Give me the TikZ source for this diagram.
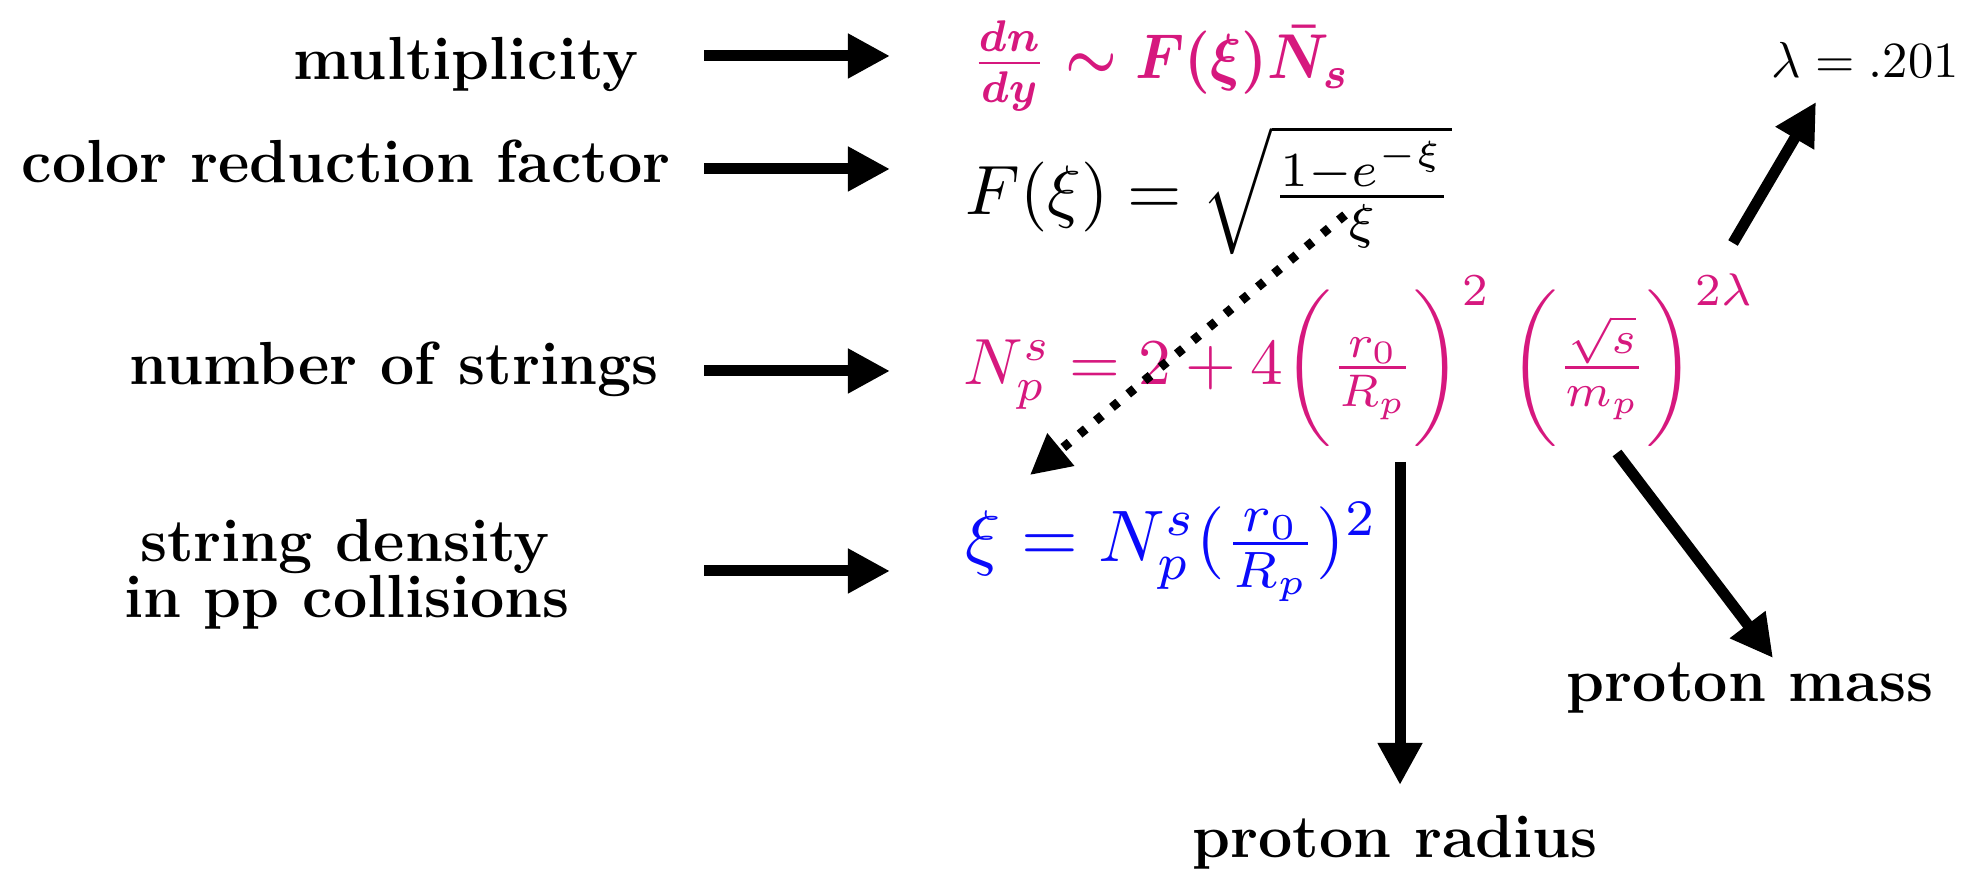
\documentclass[tikz,border=0pt]{standalone}
\usepackage{amsmath}
\usepackage{graphicx}
\usetikzlibrary{arrows.meta}
\definecolor{mag}{RGB}{214,24,126}
\definecolor{blu}{RGB}{10,10,250}
\begin{document}
\begin{tikzpicture}[x=0.01cm,y=-0.01cm,
  lab/.style={font=\fontsize{17.3}{21}\selectfont\bfseries, inner sep=0, anchor=base},
  frm/.style={inner sep=0, anchor=west},
  arr/.style={line width=0.11cm, -{Triangle[length=0.42cm,width=0.42cm]}},
  dotarr/.style={line width=0.09cm, dash pattern=on 0.08cm off 0.13cm, -{Triangle[length=0.40cm,width=0.40cm]}}]
\useasboundingbox (0,0) rectangle (1967,871);
% labels
\node[lab] (mult) at (466,80) {multiplicity};
\node[lab] (crf) at (346,183) {color reduction factor};
\node[lab] (nos) at (394,385) {number of strings};
\node[lab] (sd1) at (345,562) {string density};
\node[lab] (sd2) at (347,618) {in pp collisions};
\node[lab] (prad) at (1395,858) {proton radius};
\node[lab] (pmass) at (1750,702) {proton mass};
% formulas
\node[frm, text=mag] (f1) at (971,66) {\resizebox*{3.78cm}{0.90cm}{\boldmath$\tfrac{dn}{dy}\sim F(\xi)\bar{N}_s$}};
\node[frm] (f2) at (965,190) {\resizebox{4.86cm}{!}{$F(\xi)=\sqrt{\tfrac{1-e^{-\xi}}{\xi}}$}};
\node[frm] (lam) at (1771,60) {\resizebox{1.87cm}{!}{$\lambda=.201$}};
\node[frm, text=mag] (f3) at (963,360) {\resizebox{7.91cm}{!}{$N_p^s=2+4\biggl(\tfrac{r_0}{R_p}\biggr)^{2}\;\biggl(\tfrac{\sqrt{s}}{m_p}\biggr)^{2\lambda}$}};
\node[frm, text=blu] (f4) at (965,552) {\resizebox{4.12cm}{!}{$\xi=N_p^s(\tfrac{r_0}{R_p})^2$}};
% arrow end points
\foreach \n/\y in {a/56,b/169,c/371,d/571}{
  \coordinate (\n s) at (704,\y);
  \coordinate (\n e) at (890,\y);
}
\coordinate (ups) at (1733,243);
\coordinate (upe) at (1816,102);
\coordinate (dts) at (1345,215);
\coordinate (dte) at (1030,475);
\coordinate (vs) at (1400,462);
\coordinate (ve) at (1400,785);
\coordinate (dgs) at (1617,453);
\coordinate (dge) at (1773,658);
\draw[arr] (as) -- (ae);
\draw[arr] (bs) -- (be);
\draw[arr] (cs) -- (ce);
\draw[arr] (ds) -- (de);
\draw[arr] (ups) -- (upe);
\draw[dotarr] (dts) -- (dte);
\draw[arr] (vs) -- (ve);
\draw[arr] (dgs) -- (dge);
\end{tikzpicture}
\end{document}
